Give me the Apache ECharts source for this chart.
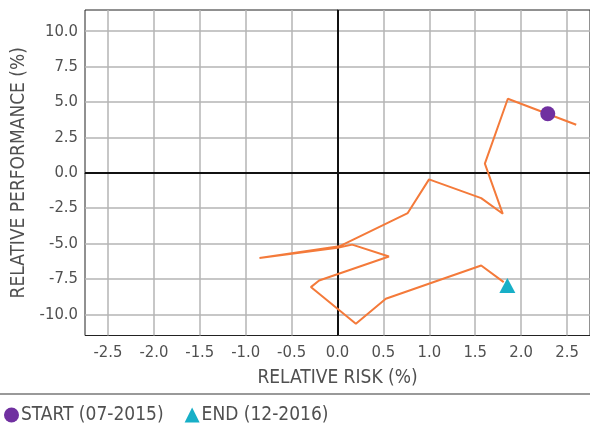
<!DOCTYPE html>
<html><head><meta charset="utf-8">
<script src="https://cdn.jsdelivr.net/npm/echarts@6/dist/echarts.min.js"></script>
<style>html,body{margin:0;padding:0;background:#fff}#c{width:590px;height:429px}</style>
</head><body><div id="c"></div>
<script>
var riskX = [2.60, 1.855, 1.605, 1.80, 1.565, 0.997, 0.765, 0.02, -0.85, 0.0, 0.16, 0.56, -0.20, -0.29, 0.20, 0.526, 1.565, 1.81];
var perfY = [3.39, 5.23, 0.64, -2.90, -1.79, -0.47, -2.85, -5.2, -6.03, -5.3, -5.08, -5.92, -7.61, -8.08, -10.67, -8.90, -6.55, -7.73];
var startPt = [2.29, 4.17];
var endPt = [1.85, -7.96];
var xTicks = [-2.5, -2.0, -1.5, -1.0, -0.5, 0.0, 0.5, 1.0, 1.5, 2.0, 2.5];
var yTicks = [-10.0, -7.5, -5.0, -2.5, 0.0, 2.5, 5.0, 7.5, 10.0];
var legendNames = ['START (07-2015)', 'END (12-2016)'];

var FONT = '"Liberation Sans Narrow","DejaVu Sans Condensed",sans-serif';
var TXT = '#505050';
var pathData = riskX.map(function (x, i) { return [x, perfY[i]]; });
var chart = echarts.init(document.getElementById('c'));
chart.setOption({
  animation: false,
  grid: { left: 85, top: 10, right: -1.5, bottom: 93.5, show: true, borderColor: '#222', borderWidth: 1, backgroundColor: 'transparent' },
  xAxis: {
    type: 'value', min: -2.75, max: 2.75, interval: 0.25,
    name: 'RELATIVE RISK (%)', nameLocation: 'middle', nameGap: 33,
    nameTextStyle: { fontFamily: FONT, fontSize: 19, color: TXT },
    axisLine: { show: true, lineStyle: { color: '#222', width: 1 } },
    axisTick: { show: false, customValues: xTicks },
    axisLabel: { customValues: xTicks, fontFamily: FONT, fontSize: 16.5, color: TXT, margin: 9,
      formatter: function (v) { return v.toFixed(1); } },
    splitLine: { show: true, lineStyle: { color: '#b4b4b4', width: 1.5 } }
  },
  yAxis: {
    type: 'value', min: -11.5, max: 11.5, interval: 0.5,
    name: 'RELATIVE PERFORMANCE (%)', nameLocation: 'middle', nameGap: 55,
    nameTextStyle: { fontFamily: FONT, fontSize: 19, color: TXT },
    axisLine: { show: true, lineStyle: { color: '#222', width: 1 } },
    axisTick: { show: false, customValues: yTicks },
    axisLabel: { customValues: yTicks, fontFamily: FONT, fontSize: 16.5, color: TXT, margin: 7,
      formatter: function (v) { return v.toFixed(1); } },
    splitLine: { show: true, lineStyle: { color: '#b4b4b4', width: 1.5 } }
  },
  legend: {
    left: 4, top: 405.5, padding: 0, itemGap: 21, itemWidth: 15, itemHeight: 15,
    textStyle: { fontFamily: FONT, fontSize: 19, color: TXT, padding: [0, 0, 0, -3] },
    data: [{ name: legendNames[0], icon: 'circle' }, { name: legendNames[1], icon: 'triangle' }]
  },
  graphic: [{ type: 'line', shape: { x1: 0, y1: 394, x2: 590, y2: 394 }, style: { stroke: '#999', lineWidth: 2 } }],
  series: [
    {
      type: 'line', data: pathData, symbol: 'none', z: 3,
      lineStyle: { color: '#f47a3a', width: 2 },
      markLine: {
        silent: true, symbol: 'none', label: { show: false }, z: 2,
        lineStyle: { color: '#111', width: 2, type: 'solid' },
        data: [{ xAxis: 0 }, { yAxis: 0 }]
      }
    },
    { name: legendNames[0], type: 'scatter', data: [startPt], symbol: 'circle', symbolSize: 15, itemStyle: { color: '#7030a0', opacity: 1 }, z: 4 },
    { name: legendNames[1], type: 'scatter', data: [endPt], symbol: 'triangle', symbolSize: [16, 15], itemStyle: { color: '#17afc7', opacity: 1 }, z: 4 }
  ]
});
</script></body></html>
